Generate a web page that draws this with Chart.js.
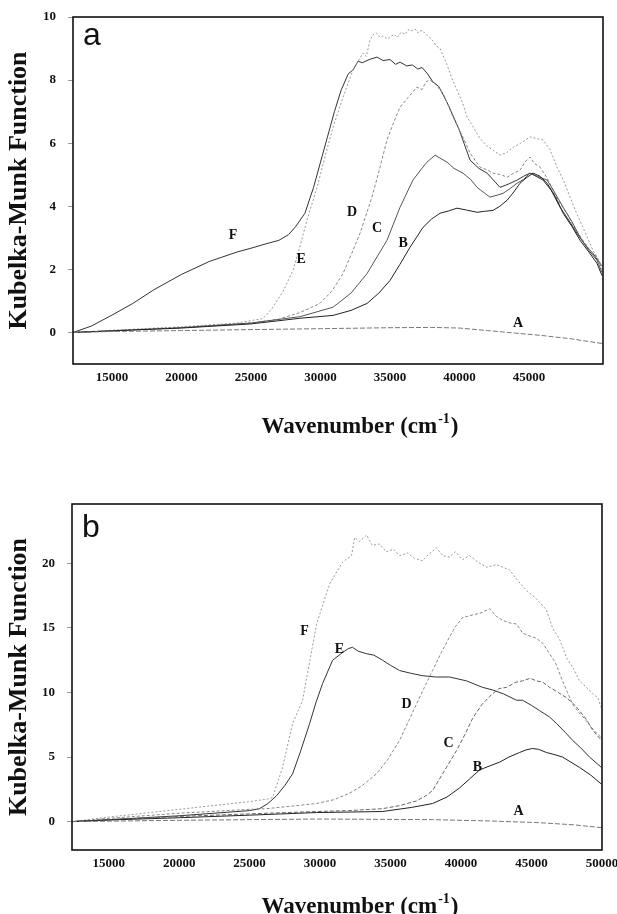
<!DOCTYPE html>
<html><head><meta charset="utf-8">
<script src="https://cdn.jsdelivr.net/npm/chart.js@4.4.0/dist/chart.umd.min.js"></script>
<style>html,body{margin:0;padding:0;background:#fff;}canvas{display:block;}</style>
</head><body>
<canvas id="ca" width="617" height="457"></canvas>
<canvas id="cb" width="617" height="457"></canvas>
<script>
// ---------- Panel a data ----------
const aTicksX = [15000, 20000, 25000, 30000, 35000, 40000, 45000];
const aTicksY = [0, 2, 4, 6, 8, 10];
const aA_x = [12195, 15000, 20000, 25000, 30000, 35000, 38000, 40000, 42000, 44000, 46000, 48000, 50250];
const aA_y = [0, 0.03, 0.06, 0.09, 0.12, 0.15, 0.16, 0.14, 0.06, -0.02, -0.1, -0.2, -0.35];
const aB_x = [12195, 15000, 20000, 25000, 28520, 30900, 32200, 33350, 34200, 35000, 35700, 36440, 37370, 38000, 38600, 39200, 39820, 40500, 41260, 41800, 42410, 42900, 43420, 43900, 44350, 44800, 45290, 45800, 46300, 46900, 47450, 48100, 48670, 49300, 49890, 50250];
const aB_y = [0, 0.05, 0.14, 0.27, 0.45, 0.54, 0.7, 0.92, 1.25, 1.65, 2.15, 2.7, 3.33, 3.6, 3.78, 3.85, 3.94, 3.88, 3.81, 3.84, 3.87, 4.0, 4.19, 4.45, 4.73, 4.9, 5.05, 4.95, 4.73, 4.3, 3.78, 3.35, 2.92, 2.55, 2.19, 1.8];
const aC_x = [12195, 15000, 20000, 25000, 28520, 30900, 32200, 33350, 34780, 35720, 36650, 37200, 37660, 38240, 38700, 39100, 39600, 40250, 40800, 41260, 41700, 42190, 42700, 43130, 43600, 44140, 44600, 45070, 45600, 46300, 46900, 47450, 48100, 48670, 49300, 49890, 50250];
const aC_y = [0, 0.05, 0.15, 0.3, 0.5, 0.8, 1.25, 1.87, 2.92, 3.97, 4.83, 5.15, 5.4, 5.62, 5.5, 5.4, 5.2, 5.05, 4.85, 4.6, 4.45, 4.29, 4.35, 4.41, 4.55, 4.73, 4.85, 5.05, 4.95, 4.83, 4.4, 3.97, 3.5, 3.02, 2.6, 2.29, 1.9];
const aD_x = [12195, 15000, 20000, 25000, 27000, 28520, 29960, 30800, 31620, 32240, 32840, 33700, 34200, 34780, 35300, 35720, 36300, 36940, 37300, 37600, 37880, 38300, 38810, 39530, 40250, 40760, 41470, 42000, 42410, 43000, 43420, 43900, 44350, 44700, 45070, 45400, 45790, 46300, 46730, 47200, 47730, 48300, 48880, 49400, 49890, 50250];
const aD_y = [0, 0.06, 0.16, 0.3, 0.42, 0.63, 0.92, 1.3, 1.87, 2.5, 3.14, 4.29, 5.1, 6.1, 6.7, 7.14, 7.45, 7.78, 7.7, 7.95, 8.0, 7.85, 7.59, 6.83, 6.19, 5.68, 5.24, 5.15, 5.05, 5.0, 4.92, 5.05, 5.14, 5.4, 5.56, 5.35, 5.24, 4.9, 4.5, 4.1, 3.78, 3.3, 2.92, 2.6, 2.4, 2.0];
const aE_x = [12195, 15000, 20000, 24000, 25860, 26500, 27300, 28020, 28500, 29030, 29750, 30400, 30900, 31620, 32340, 32700, 33060, 33300, 33560, 33800, 34000, 34300, 34500, 34800, 35000, 35300, 35500, 35800, 36100, 36300, 36500, 36800, 37000, 37300, 37700, 38000, 38300, 38600, 39000, 39500, 39820, 40200, 40540, 41000, 41470, 42000, 42410, 42910, 43400, 43850, 44400, 45070, 45500, 46010, 46500, 47010, 47500, 47950, 48400, 48880, 49300, 49600, 50000, 50250];
const aE_y = [0, 0.07, 0.18, 0.3, 0.44, 0.75, 1.3, 1.97, 2.7, 3.56, 4.6, 5.7, 6.5, 7.46, 8.32, 8.6, 8.86, 8.75, 9.27, 9.45, 9.5, 9.35, 9.4, 9.3, 9.37, 9.45, 9.35, 9.52, 9.45, 9.6, 9.55, 9.62, 9.5, 9.58, 9.4, 9.3, 9.1, 9.0, 8.6, 8.0, 7.68, 7.3, 6.83, 6.5, 6.15, 5.9, 5.78, 5.62, 5.7, 5.87, 6.0, 6.2, 6.15, 6.1, 5.8, 5.24, 4.8, 4.29, 3.8, 3.33, 2.9, 2.6, 2.3, 2.1];
const aF_x = [12195, 13500, 15000, 16500, 18000, 20000, 22000, 24000, 25000, 26000, 27000, 27700, 28200, 28880, 29500, 30000, 30500, 31000, 31500, 32000, 32340, 32700, 33000, 33500, 34060, 34500, 35000, 35400, 35720, 36200, 36600, 37000, 37300, 37660, 38090, 38500, 38800, 39200, 39500, 40000, 40400, 40760, 41400, 41980, 42500, 42910, 43500, 44140, 44600, 45070, 45500, 46010, 46600, 47230, 47800, 48450, 49000, 49600, 50250];
const aF_y = [0, 0.2, 0.55, 0.92, 1.35, 1.84, 2.25, 2.55, 2.67, 2.8, 2.92, 3.1, 3.35, 3.78, 4.6, 5.4, 6.2, 7.0, 7.7, 8.2, 8.32, 8.6, 8.55, 8.65, 8.73, 8.62, 8.65, 8.5, 8.57, 8.45, 8.48, 8.35, 8.4, 8.22, 7.94, 7.8, 7.55, 7.2, 6.9, 6.4, 5.9, 5.46, 5.2, 5.05, 4.8, 4.6, 4.7, 4.83, 4.95, 5.05, 4.95, 4.83, 4.5, 3.97, 3.6, 3.14, 2.8, 2.5, 2.1];
const aLabelNames = ['A', 'B', 'C', 'D', 'E', 'F'];
const aLabelX = [44210, 35940, 34060, 32270, 28600, 23700];
const aLabelY = [0.29, 2.83, 3.3, 3.81, 2.32, 3.08];

// ---------- Panel b data ----------
const bTicksX = [15000, 20000, 25000, 30000, 35000, 40000, 45000, 50000];
const bTicksY = [0, 5, 10, 15, 20];
const bA_x = [12400, 20000, 30000, 38000, 42000, 45500, 48000, 49960];
const bA_y = [0, 0.1, 0.2, 0.15, 0.05, -0.08, -0.25, -0.47];
const bB_x = [12400, 15000, 20000, 25000, 29750, 34430, 36500, 37980, 39000, 39890, 40600, 41310, 42000, 42730, 43400, 44150, 44600, 45070, 45500, 46060, 46600, 47200, 47800, 48400, 49200, 49960];
const bB_y = [0, 0.12, 0.3, 0.5, 0.7, 0.78, 1.1, 1.4, 1.9, 2.6, 3.3, 4.0, 4.3, 4.6, 5.0, 5.35, 5.55, 5.66, 5.6, 5.35, 5.2, 5.0, 4.6, 4.2, 3.6, 2.9];
const bC_x = [12400, 15000, 20000, 25000, 29750, 32000, 34430, 35700, 36840, 37500, 37980, 38690, 39680, 40300, 40820, 41500, 42230, 42700, 43230, 43900, 44360, 44900, 45350, 45800, 46280, 46900, 47480, 48000, 48400, 48900, 49330, 49960];
const bC_y = [0, 0.15, 0.4, 0.6, 0.78, 0.85, 1.0, 1.25, 1.6, 2.0, 2.4, 3.7, 5.5, 6.8, 8.0, 9.1, 9.9, 10.3, 10.4, 10.8, 10.9, 11.1, 10.9, 10.8, 10.4, 10.0, 9.6, 9.1, 8.6, 7.9, 7.1, 6.3];
const bD_x = [12400, 15000, 20000, 25000, 26200, 28000, 29750, 31000, 32090, 33000, 34000, 34800, 35640, 36200, 36840, 37400, 37980, 38600, 39180, 39600, 40110, 40800, 41520, 42020, 42500, 42940, 43400, 43940, 44360, 44800, 45350, 45800, 46280, 46700, 47200, 47550, 47910, 48400, 48900, 49400, 49960];
const bD_y = [0, 0.25, 0.65, 0.95, 1.0, 1.2, 1.4, 1.7, 2.2, 2.8, 3.7, 4.8, 6.3, 7.6, 9.1, 10.4, 11.7, 13.1, 14.3, 15.1, 15.8, 16.0, 16.2, 16.5, 15.9, 15.6, 15.4, 15.3, 14.6, 14.4, 14.2, 13.8, 13.0, 12.3, 10.9, 10.0, 9.1, 8.4, 7.8, 7.1, 6.5];
const bE_x = [12400, 15000, 20000, 25000, 25700, 26300, 26910, 27500, 28050, 28600, 29260, 29700, 30180, 30890, 31600, 32000, 32300, 32700, 33300, 33800, 34430, 35000, 35640, 36400, 37270, 38200, 39180, 40390, 41520, 42230, 43000, 43940, 44360, 45000, 45570, 46280, 46770, 47400, 47910, 48500, 49110, 49960];
const bE_y = [0, 0.15, 0.45, 0.85, 1.0, 1.4, 2.0, 2.8, 3.7, 5.4, 7.6, 9.2, 10.7, 12.5, 13.1, 13.4, 13.5, 13.2, 13.0, 12.9, 12.5, 12.1, 11.7, 11.5, 11.3, 11.2, 11.2, 10.9, 10.4, 10.2, 9.9, 9.4, 9.4, 9.0, 8.6, 8.1, 7.6, 6.9, 6.3, 5.7, 5.0, 4.2];
const bF_x = [12400, 15000, 20000, 25000, 26300, 26630, 27340, 28050, 28760, 29750, 30670, 31600, 32230, 32450, 32800, 33300, 33700, 34220, 34700, 35200, 35640, 36200, 36700, 37270, 37700, 38260, 38700, 39180, 39600, 40100, 40600, 41200, 41810, 42500, 43440, 44000, 44650, 45300, 46060, 46490, 47000, 47480, 48000, 48400, 48900, 49330, 49700, 49960];
const bF_y = [0, 0.35, 0.95, 1.55, 1.75, 1.86, 4.2, 7.6, 9.4, 15.3, 18.4, 20.1, 20.6, 22.0, 21.7, 22.2, 21.4, 21.5, 20.9, 21.1, 20.6, 20.8, 20.4, 20.2, 20.7, 21.2, 20.6, 20.5, 20.9, 20.3, 20.6, 20.1, 19.7, 19.9, 19.5, 18.7, 17.9, 17.3, 16.4, 15.0, 14.1, 12.7, 11.8, 10.9, 10.4, 9.9, 9.6, 8.8];
const bLabelNames = ['A', 'B', 'C', 'D', 'E', 'F'];
const bLabelX = [44080, 41170, 39110, 36130, 31380, 28900];
const bLabelY = [0.78, 4.19, 6.05, 9.07, 13.3, 14.7];

// ---------- drawing ----------
const SERIF = '"Liberation Serif","Times New Roman",serif';
const pts = (xs, ys) => xs.map((x, i) => ({x: x, y: ys[i]}));
const ds = (xs, ys, color, dash) => ({data: pts(xs, ys), borderColor: color, borderWidth: 1, borderDash: dash || [], showLine: true, pointRadius: 0, fill: false, tension: 0});

const decor = {
  id: 'decor',
  afterDatasetsDraw(chart, args, o) {
    const ctx = chart.ctx, a = chart.chartArea, sx = chart.scales.x, sy = chart.scales.y;
    ctx.save();
    ctx.strokeStyle = '#111'; ctx.lineWidth = 1.6;
    ctx.strokeRect(a.left, a.top, a.right - a.left, a.bottom - a.top);
    ctx.fillStyle = '#111';
    ctx.font = '32px "Liberation Sans", Arial, sans-serif';
    ctx.textAlign = 'left'; ctx.textBaseline = 'alphabetic';
    ctx.fillText(o.letter, a.left + 10, a.top + o.letterDy);
    ctx.font = 'bold 14px ' + SERIF; ctx.textAlign = 'center'; ctx.textBaseline = 'middle';
    o.names.forEach((n, i) => ctx.fillText(n, sx.getPixelForValue(o.lx[i]), sy.getPixelForValue(o.ly[i])));
    ctx.save();
    ctx.translate(19, (a.top + a.bottom) / 2); ctx.rotate(-Math.PI / 2);
    ctx.font = 'bold 26px ' + SERIF; ctx.fillText('Kubelka-Munk Function', 0, 0);
    ctx.restore();
    const f1 = 'bold 23px ' + SERIF, f2 = 'bold 14px ' + SERIF;
    ctx.textAlign = 'left'; ctx.textBaseline = 'alphabetic';
    ctx.font = f1; const w1 = ctx.measureText('Wavenumber (cm').width, w3 = ctx.measureText(')').width;
    ctx.font = f2; const w2 = ctx.measureText('-1').width;
    let x0 = o.xTitleCx - (w1 + w2 + w3) / 2;
    ctx.font = f1; ctx.fillText('Wavenumber (cm', x0, o.xTitleY);
    ctx.font = f2; ctx.fillText('-1', x0 + w1 + 1, o.xTitleY - 10);
    ctx.font = f1; ctx.fillText(')', x0 + w1 + w2 + 2, o.xTitleY);
    ctx.restore();
  }
};

function makeChart(id, p) {
  new Chart(document.getElementById(id), {
    type: 'scatter',
    data: {datasets: p.datasets},
    plugins: [decor],
    options: {
      responsive: false, animation: false,
      layout: {padding: p.pad},
      plugins: {legend: {display: false}, tooltip: {enabled: false}, decor: p.decor},
      scales: {
        x: {
          type: 'linear', min: p.xmin, max: p.xmax,
          afterBuildTicks: s => { s.ticks = p.xt.map(v => ({value: v})); },
          afterFit: s => { s.height = 30; s.paddingLeft = 0; s.paddingRight = 0; },
          grid: {display: false, drawTicks: false}, border: {display: false},
          ticks: {font: {family: SERIF, size: 13, weight: 'bold'}, color: '#111', padding: 6, maxRotation: 0, autoSkip: false, callback: v => String(v)}
        },
        y: {
          min: p.ymin, max: p.ymax,
          afterBuildTicks: s => { s.ticks = p.yt.map(v => ({value: v})); },
          afterFit: s => { s.width = p.yw; s.paddingTop = 0; s.paddingBottom = 0; },
          grid: {display: true, drawOnChartArea: false, drawTicks: true, tickLength: 5, color: '#999'}, border: {display: false},
          ticks: {font: {family: SERIF, size: 13, weight: 'bold'}, color: '#111', padding: 12, callback: v => String(v)}
        }
      }
    }
  });
}

makeChart('ca', {
  xmin: 12195, xmax: 50320, ymin: -1, ymax: 10, xt: aTicksX, yt: aTicksY, yw: 73,
  pad: {top: 17, left: 0, right: 14, bottom: 63},
  decor: {letter: 'a', letterDy: 28, names: aLabelNames, lx: aLabelX, ly: aLabelY, xTitleCx: 359, xTitleY: 433},
  datasets: [
    ds(aA_x, aA_y, '#777', [5, 2]),
    ds(aB_x, aB_y, '#222'),
    ds(aC_x, aC_y, '#555'),
    ds(aD_x, aD_y, '#888', [3, 2]),
    ds(aE_x, aE_y, '#999', [2, 2]),
    ds(aF_x, aF_y, '#333')
  ]
});

makeChart('cb', {
  xmin: 12400, xmax: 50000, ymin: -2.2, ymax: 24.6, xt: bTicksX, yt: bTicksY, yw: 72,
  pad: {top: 47, left: 0, right: 15, bottom: 34},
  decor: {letter: 'b', letterDy: 33, names: bLabelNames, lx: bLabelX, ly: bLabelY, xTitleCx: 359, xTitleY: 456},
  datasets: [
    ds(bA_x, bA_y, '#777', [5, 2]),
    ds(bB_x, bB_y, '#222'),
    ds(bC_x, bC_y, '#666', [4, 2]),
    ds(bD_x, bD_y, '#888', [3, 2]),
    ds(bE_x, bE_y, '#333'),
    ds(bF_x, bF_y, '#999', [2, 2])
  ]
});
</script>
</body></html>
